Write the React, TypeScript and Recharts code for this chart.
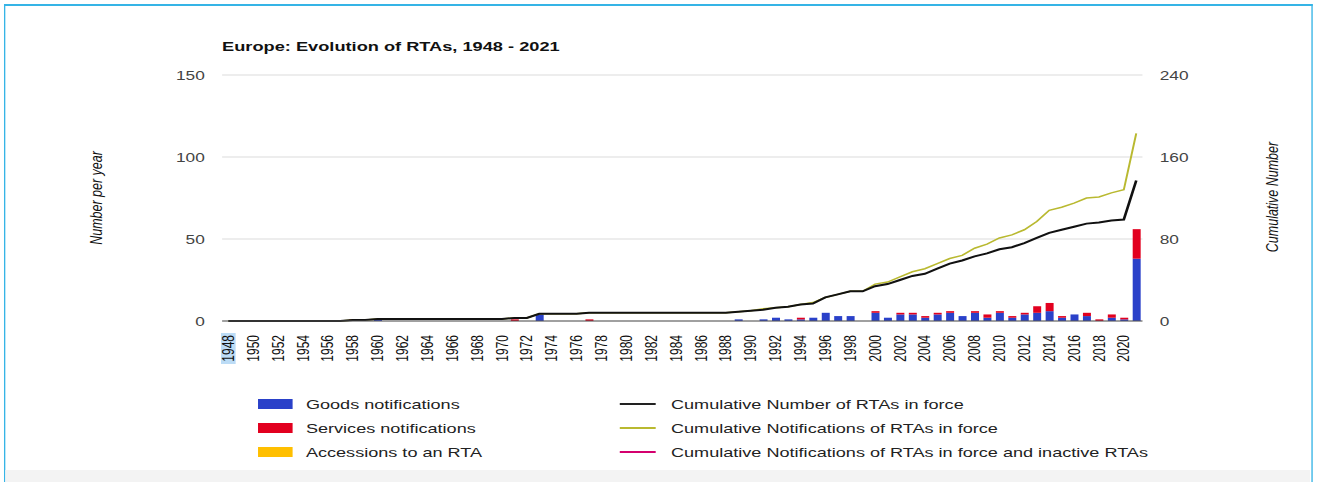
import { ComposedChart, Bar, Line, XAxis, YAxis, CartesianGrid } from 'recharts';

// Europe: Evolution of RTAs, 1948 - 2021
const years = [
  '1948', '1949', '1950', '1951', '1952', '1953', '1954', '1955', '1956', '1957',
  '1958', '1959', '1960', '1961', '1962', '1963', '1964', '1965', '1966', '1967',
  '1968', '1969', '1970', '1971', '1972', '1973', '1974', '1975', '1976', '1977',
  '1978', '1979', '1980', '1981', '1982', '1983', '1984', '1985', '1986', '1987',
  '1988', '1989', '1990', '1991', '1992', '1993', '1994', '1995', '1996', '1997',
  '1998', '1999', '2000', '2001', '2002', '2003', '2004', '2005', '2006', '2007',
  '2008', '2009', '2010', '2011', '2012', '2013', '2014', '2015', '2016', '2017',
  '2018', '2019', '2020', '2021'
];

const goods = [
  0, 0, 0, 0, 0, 0, 0, 0, 0, 0,
  0, 0, 1, 0, 0, 0, 0, 0, 0, 0,
  0, 0, 0, 0, 0, 4, 0, 0, 0, 0,
  0, 0, 0, 0, 0, 0, 0, 0, 0, 0,
  0, 1, 0, 1, 2, 1, 1, 2, 5, 3,
  3, 0, 5, 2, 4, 4, 2, 4, 5, 3,
  5, 2, 5, 2, 4, 5, 6, 2, 4, 3,
  0, 2, 1, 38
];

const services = [
  0, 0, 0, 0, 0, 0, 0, 0, 0, 0,
  1, 0, 0, 0, 0, 0, 0, 0, 0, 0,
  0, 0, 0, 1, 0, 0, 0, 0, 0, 1,
  0, 0, 0, 0, 0, 0, 0, 0, 0, 0,
  0, 0, 0, 0, 0, 0, 1, 0, 0, 0,
  0, 0, 1, 0, 1, 1, 1, 1, 1, 0,
  1, 2, 1, 1, 1, 4, 5, 1, 0, 2,
  1, 2, 1, 18
];

const cumInForce = [
  0, 0, 0, 0, 0, 0, 0, 0, 0, 0,
  1, 1, 2, 2, 2, 2, 2, 2, 2, 2,
  2, 2, 2, 3, 3, 7, 7, 7, 7, 8,
  8, 8, 8, 8, 8, 8, 8, 8, 8, 8,
  8, 9, 10, 11, 13, 14, 16, 17, 23, 26,
  29, 29, 34, 36, 40, 44, 46, 51, 56, 59,
  63, 66, 70, 72, 76, 81, 86, 89, 92, 95,
  96, 98, 99, 137
];

const cumNotifications = [
  0, 0, 0, 0, 0, 0, 0, 0, 0, 0,
  1, 1, 2, 2, 2, 2, 2, 2, 2, 2,
  2, 2, 2, 3, 3, 7, 7, 7, 7, 8,
  8, 8, 8, 8, 8, 8, 8, 8, 8, 8,
  8, 9, 10, 12, 13, 14, 16, 18, 23, 26,
  29, 29, 36, 38, 43, 48, 51, 56, 61, 64,
  71, 75, 81, 84, 89, 97, 108, 111, 115, 120,
  121, 125, 128, 183
];

const leftTicks = [0, 50, 100, 150];
const rightTicks = [0, 80, 160, 240];

const data = years.map((y, i) => ({
  year: y,
  goods: goods[i],
  services: services[i],
  cumInForce: cumInForce[i],
  cumNotifications: cumNotifications[i]
}));

// the reference is stretched sideways, so the chart is drawn narrower and scaled
const SCALE_X = 1.33;
const INNER_W = 990;
const FONT = '"Liberation Sans", Arial, sans-serif';

function YearTick(props: any) {
  const { x, y, payload } = props;
  const first = payload.value === '1948';
  return (
    <g transform={`translate(${x},${y})`}>
      <g transform="rotate(-90)">
        {first && <rect x={-33} y={-5.5} width={31} height={11} fill="#bcdcf6" />}
        <text x={-4} y={0} dy="0.35em" textAnchor="end" fontSize={12} fill="#111" fontFamily={FONT}>
          {payload.value}
        </text>
      </g>
    </g>
  );
}

const barLegend = [
  { name: 'Goods notifications', color: '#2a41c9' },
  { name: 'Services notifications', color: '#e2001f' },
  { name: 'Accessions to an RTA', color: '#ffbf00' }
];

const lineLegend = [
  { name: 'Cumulative Number of RTAs in force', color: '#222222' },
  { name: 'Cumulative Notifications of RTAs in force', color: '#b9b930' },
  { name: 'Cumulative Notifications of RTAs in force and inactive RTAs', color: '#d4006e' }
];

export default function App() {
  return (
    <div style={{ position: 'absolute', left: 0, top: 0, width: 1317, height: 482, overflow: 'hidden', background: '#fff' }}>
      <div
        style={{
          position: 'absolute', left: 0, top: 0, width: INNER_W, height: 482,
          transform: `scaleX(${SCALE_X})`, transformOrigin: '0 0', fontFamily: FONT
        }}
      >
        {/* frame around the page section */}
        <div style={{ position: 'absolute', left: 2.5, top: 4, width: 982, height: 490, borderTop: '2px solid #35b4e6', borderLeft: '1.5px solid #35b4e6', borderRight: '1.5px solid #35b4e6' }} />
        <div style={{ position: 'absolute', left: 4, top: 470, width: 981, height: 12, background: '#f3f3f3' }} />

        <div style={{ position: 'absolute', left: 167, top: 39, fontSize: 13.7, fontWeight: 'bold', color: '#111', whiteSpace: 'nowrap' }}>
          Europe: Evolution of RTAs, 1948 - 2021
        </div>

        <div style={{ position: 'absolute', left: 0, top: 0 }}>
          <ComposedChart
            width={INNER_W}
            height={482}
            data={data}
            margin={{ top: 75, right: 71, left: 107, bottom: 101 }}
            barSize={6}
          >
            <CartesianGrid vertical={false} stroke="#dcdcdc" yAxisId="left" />
            <XAxis
              dataKey="year"
              interval={1}
              height={60}
              tickLine={false}
              tickSize={8}
              axisLine={{ stroke: '#555' }}
              tick={<YearTick />}
            />
            <YAxis
              yAxisId="left"
              domain={[0, 150]}
              ticks={leftTicks}
              width={60}
              axisLine={false}
              tickLine={false}
              tickSize={11}
              tickMargin={2}
              tick={{ fontSize: 13, fill: '#444', fontFamily: FONT }}
            />
            <YAxis
              yAxisId="right"
              orientation="right"
              domain={[0, 240]}
              ticks={rightTicks}
              width={60}
              axisLine={false}
              tickLine={false}
              tickSize={11}
              tickMargin={2}
              tick={{ fontSize: 13, fill: '#444', fontFamily: FONT }}
            />
            <Bar yAxisId="left" dataKey="goods" stackId="a" fill="#2a41c9" isAnimationActive={false} />
            <Bar yAxisId="left" dataKey="services" stackId="a" fill="#e2001f" isAnimationActive={false} />
            <Line
              yAxisId="right"
              type="linear"
              dataKey="cumNotifications"
              stroke="#b9b930"
              strokeWidth={1.5}
              dot={false}
              isAnimationActive={false}
            />
            <Line
              yAxisId="right"
              type="linear"
              dataKey="cumInForce"
              stroke="#111"
              strokeWidth={2}
              dot={false}
              isAnimationActive={false}
            />
          </ComposedChart>
        </div>

        <svg style={{ position: 'absolute', left: 0, top: 0, pointerEvents: 'none' }} width={INNER_W} height={482}>
          <text transform="translate(77,198) rotate(-90)" textAnchor="middle" fontSize={12.5} fontStyle="italic" fill="#111" fontFamily={FONT}>
            Number per year
          </text>
          <text transform="translate(961,197) rotate(-90)" textAnchor="middle" fontSize={12.5} fontStyle="italic" fill="#111" fontFamily={FONT}>
            Cumulative Number
          </text>
        </svg>

        {barLegend.map((item, i) => (
          <div key={item.name} style={{ position: 'absolute', left: 194, top: 396 + i * 24, height: 16, display: 'flex', alignItems: 'center' }}>
            <div style={{ width: 25.5, height: 10, background: item.color }} />
            <span style={{ marginLeft: 10.5, fontSize: 13.6, color: '#222', whiteSpace: 'nowrap' }}>{item.name}</span>
          </div>
        ))}
        {lineLegend.map((item, i) => (
          <div key={item.name} style={{ position: 'absolute', left: 466, top: 396 + i * 24, height: 16, display: 'flex', alignItems: 'center' }}>
            <div style={{ width: 27, height: 2, background: item.color }} />
            <span style={{ marginLeft: 11.5, fontSize: 13.6, color: '#222', whiteSpace: 'nowrap' }}>{item.name}</span>
          </div>
        ))}
      </div>
    </div>
  );
}
